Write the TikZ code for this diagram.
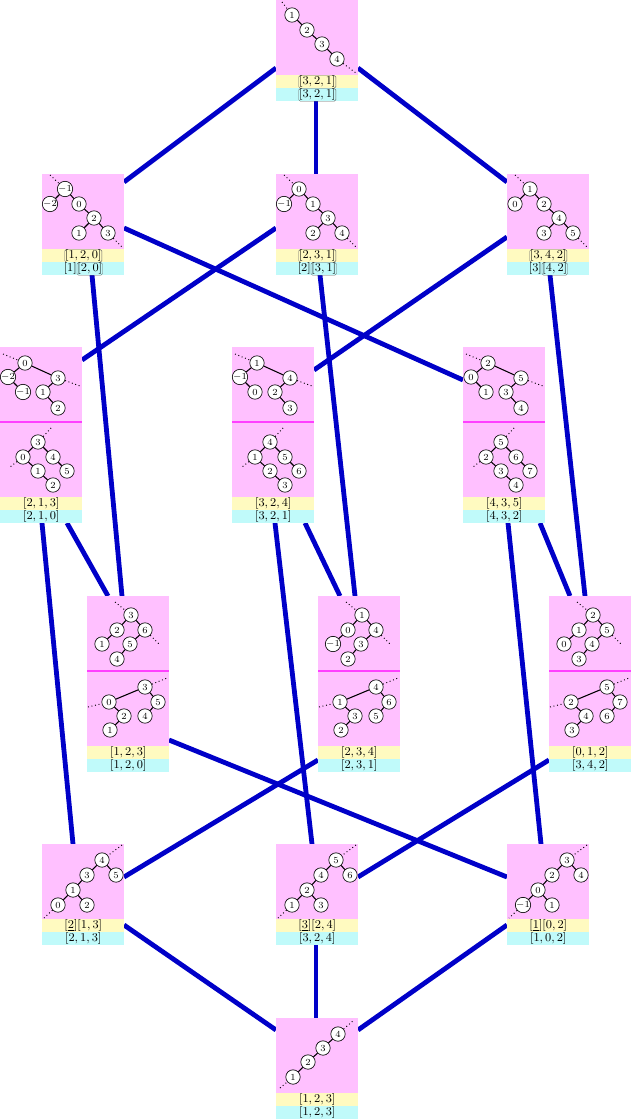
\documentclass[tikz,border=0pt]{standalone}
\usetikzlibrary{calc}
\definecolor{pk}{HTML}{FFC0FF}
\definecolor{yl}{HTML}{FFFAC0}
\definecolor{cy}{HTML}{C0FAFA}
\definecolor{mg}{HTML}{FF40FF}
\definecolor{eb}{HTML}{0000C8}
\tikzset{
 cc/.style={circle,draw,fill=white,inner sep=0pt,minimum size=10.8pt,font=\scriptsize,line width=0.5pt},
 tl/.style={line width=0.8pt},
 dl/.style={dotted,line width=0.7pt},
 eg/.style={eb,line width=3.6pt},
 pbox/.style={fill=pk,draw=none,anchor=north west,minimum width=61.5pt,inner sep=0pt},
 ybox/.style={fill=yl,draw=none,anchor=north west,minimum width=61.5pt,minimum height=9.75pt,inner sep=0pt,font=\small},
 cbox/.style={fill=cy,draw=none,anchor=north west,minimum width=61.5pt,minimum height=9.75pt,inner sep=0pt,font=\small},
 frm/.style={draw=black!60,fill=none,rounded corners=1.2pt,inner sep=0.3pt,line width=0.3pt,minimum width=0pt,minimum height=0pt,anchor=base}
}
\newcommand\fr[1]{\tikz[baseline=(q.base)]\node[frm](q){$#1$};}
\newcommand\Bx[4]{%
 \node[pbox,minimum height={#2*0.75pt}] (#1p) at (#1) {};
 \node[ybox] (#1y) at ($(#1)+(0,#2)$) {#3};
 \node[cbox] (#1c) at ($(#1)+(0,#2+13)$) {#4};}
\newcommand\ShapeTop[4]{\node[cc](a) at (16,15){#1};\node[cc](b) at (31,30){#2};\node[cc](c) at (46,44){#3};\node[cc](d) at (61,59){#4};
 \draw[tl](a)--(b)--(c)--(d);\draw[dl](6,2)--(a);\draw[dl](d)--(80,73);}
\newcommand\ShapeBot[4]{\node[cc](a) at (17,59){#1};\node[cc](b) at (32,44){#2};\node[cc](c) at (47,30){#3};\node[cc](d) at (62,16){#4};
 \draw[tl](a)--(b)--(c)--(d);\draw[dl](4,70)--(a);\draw[dl](d)--(78,2);}
\newcommand\ShapeB[6]{\node[cc](a) at (23,15){#1};\node[cc](b) at (8,30){#2};\node[cc](c) at (37,30){#3};\node[cc](d) at (52,44){#4};\node[cc](e) at (37,59){#5};\node[cc](f) at (66,59){#6};
 \draw[tl](b)--(a)--(c)--(d)--(e);\draw[tl](d)--(f);\draw[dl](8,1)--(a);\draw[dl](f)--(81,74);}
\newcommand\ShapeC[6]{\node[cc](a) at (25,16){#1};\node[cc](b) at (8,30){#2};\node[cc](c) at (23,45){#3};\node[cc](d) at (58,31){#4};\node[cc](e) at (43,45){#5};\node[cc](f) at (58,61){#6};
 \draw[tl](c)--(b)--(a)--(d)--(e)--(f);\draw[dl](3,7)--(a);\draw[dl](d)--(80,39);}
\newcommand\ShapeD[6]{\node[cc](a) at (38,20){#1};\node[cc](b) at (23,35){#2};\node[cc](c) at (53,35){#3};\node[cc](d) at (38,49){#4};\node[cc](e) at (67,49){#5};\node[cc](f) at (53,63){#6};
 \draw[tl](c)--(a)--(b)--(d)--(f);\draw[tl](c)--(e);\draw[dl](a)--(52,5);\draw[dl](b)--(10,45);}
\newcommand\ShapeE[6]{\node[cc](a) at (60,16){#1};\node[cc](b) at (45,31){#2};\node[cc](c) at (74,31){#3};\node[cc](d) at (31,46){#4};\node[cc](e) at (16,61){#5};\node[cc](f) at (45,61){#6};
 \draw[tl](c)--(a)--(b)--(d)--(e);\draw[tl](d)--(f);\draw[dl](80,1)--(a);\draw[dl](e)--(2,74);}
\newcommand\ShapeF[6]{\node[cc](a) at (44,19){#1};\node[cc](b) at (30,34){#2};\node[cc](c) at (58,34){#3};\node[cc](d) at (15,48){#4};\node[cc](e) at (43,48){#5};\node[cc](f) at (30,63){#6};
 \draw[tl](d)--(b)--(a)--(c)--(e)--(f);\draw[dl](28,6)--(a);\draw[dl](c)--(73,49);}
\newcommand\ShapeG[6]{\node[cc](a) at (58,16){#1};\node[cc](b) at (22,31){#2};\node[cc](c) at (71,31){#3};\node[cc](d) at (37,45){#4};\node[cc](e) at (58,45){#5};\node[cc](f) at (23,59){#6};
 \draw[tl](f)--(d)--(b)--(a)--(c)--(e);\draw[dl](1,36)--(b);\draw[dl](a)--(80,7);}
\begin{document}
\begin{tikzpicture}[x=0.75pt,y=-0.75pt]
\useasboundingbox (0,0) rectangle (632,1120);
\coordinate (Ba) at (276,0);
\coordinate (Bb) at (42,174); \coordinate (Bc) at (276,174); \coordinate (Bd) at (507,174);
\coordinate (Be) at (0,347); \coordinate (Bf) at (232,347); \coordinate (Bg) at (463,347);
\coordinate (Bh) at (87,596); \coordinate (Bi) at (318,596); \coordinate (Bj) at (549,596);
\coordinate (Bk) at (42,844); \coordinate (Bl) at (276,844); \coordinate (Bm) at (507,844);
\coordinate (Bn) at (276,1018);
% edges
\draw[eg] ($(Ba)+(0,68)$) -- ($(Bb)+(82,8)$);
\draw[eg] ($(Ba)+(82,68)$) -- ($(Bd)+(0,8)$);
\draw[eg] ($(Ba)+(40,101)$) -- ($(Bc)+(40,0)$);
\draw[eg] ($(Bb)+(82,54)$) -- ($(Bg)+(0,33)$);
\draw[eg] ($(Bb)+(50,101)$) -- ($(Bh)+(35,0)$);
\draw[eg] ($(Bc)+(0,54)$) -- ($(Be)+(82,13)$);
\draw[eg] ($(Bc)+(44,101)$) -- ($(Bi)+(37,0)$);
\draw[eg] ($(Bd)+(0,63)$) -- ($(Bf)+(82,23)$);
\draw[eg] ($(Bd)+(43,101)$) -- ($(Bj)+(36,0)$);
\draw[eg] ($(Be)+(42,176)$) -- ($(Bk)+(31,0)$);
\draw[eg] ($(Be)+(67,176)$) -- ($(Bh)+(21,0)$);
\draw[eg] ($(Bf)+(43,176)$) -- ($(Bl)+(36,0)$);
\draw[eg] ($(Bf)+(73,176)$) -- ($(Bi)+(22,0)$);
\draw[eg] ($(Bg)+(45,176)$) -- ($(Bm)+(34,0)$);
\draw[eg] ($(Bg)+(77,176)$) -- ($(Bj)+(21,0)$);
\draw[eg] ($(Bh)+(82,144)$) -- ($(Bm)+(0,33)$);
\draw[eg] ($(Bi)+(0,164)$) -- ($(Bk)+(82,33)$);
\draw[eg] ($(Bj)+(0,164)$) -- ($(Bl)+(82,33)$);
\draw[eg] ($(Bk)+(82,81)$) -- ($(Bn)+(0,12)$);
\draw[eg] ($(Bl)+(40,101)$) -- ($(Bn)+(40,0)$);
\draw[eg] ($(Bm)+(0,81)$) -- ($(Bn)+(82,12)$);
% boxes
\Bx{Ba}{75}{\fr{[3,2,1]}}{\fr{[3,2,1]}}
\Bx{Bb}{75}{\fr{[1,2,0]}}{$[1]$\fr{[2,0]}}
\Bx{Bc}{75}{\fr{[2,3,1]}}{$[2]$\fr{[3,1]}}
\Bx{Bd}{75}{\fr{[3,4,2]}}{$[3]$\fr{[4,2]}}
\Bx{Be}{150}{$[2,1,3]$}{$[2,1,0]$}
\Bx{Bf}{150}{$[3,2,4]$}{$[3,2,1]$}
\Bx{Bg}{150}{$[4,3,5]$}{$[4,3,2]$}
\Bx{Bh}{150}{$[1,2,3]$}{$[1,2,0]$}
\Bx{Bi}{150}{$[2,3,4]$}{$[2,3,1]$}
\Bx{Bj}{150}{$[0,1,2]$}{$[3,4,2]$}
\Bx{Bk}{75}{$[\underline{2}][1,3]$}{$[2,1,3]$}
\Bx{Bl}{75}{$[\underline{3}][2,4]$}{$[3,2,4]$}
\Bx{Bm}{75}{$[\underline{1}][0,2]$}{$[1,0,2]$}
\Bx{Bn}{75}{$[1,2,3]$}{$[1,2,3]$}
\foreach \b in {Be,Bf,Bg,Bh,Bi,Bj}{\draw[mg,line width=0.8pt] ($(\b)+(0,75)$) -- ++(82,0);}
% trees
\begin{scope}[shift={(Ba)}]\ShapeTop{1}{2}{3}{4}\end{scope}
\begin{scope}[shift={(Bb)}]\ShapeB{$-1$}{$-2$}{0}{2}{1}{3}\end{scope}
\begin{scope}[shift={(Bc)}]\ShapeB{0}{$-1$}{1}{3}{2}{4}\end{scope}
\begin{scope}[shift={(Bd)}]\ShapeB{1}{0}{2}{4}{3}{5}\end{scope}
\begin{scope}[shift={(Be)}]\ShapeC{0}{$-2$}{$-1$}{3}{1}{2}\end{scope}
\begin{scope}[shift={($(Be)+(0,75)$)}]\ShapeD{3}{0}{4}{1}{5}{2}\end{scope}
\begin{scope}[shift={(Bf)}]\ShapeC{1}{$-1$}{0}{4}{2}{3}\end{scope}
\begin{scope}[shift={($(Bf)+(0,75)$)}]\ShapeD{4}{1}{5}{2}{6}{3}\end{scope}
\begin{scope}[shift={(Bg)}]\ShapeC{2}{0}{1}{5}{3}{4}\end{scope}
\begin{scope}[shift={($(Bg)+(0,75)$)}]\ShapeD{5}{2}{6}{3}{7}{4}\end{scope}
\begin{scope}[shift={(Bh)}]\ShapeF{3}{2}{6}{1}{5}{4}\end{scope}
\begin{scope}[shift={($(Bh)+(0,75)$)}]\ShapeG{3}{0}{5}{2}{4}{1}\end{scope}
\begin{scope}[shift={(Bi)}]\ShapeF{1}{0}{4}{$-1$}{3}{2}\end{scope}
\begin{scope}[shift={($(Bi)+(0,75)$)}]\ShapeG{4}{1}{6}{3}{5}{2}\end{scope}
\begin{scope}[shift={(Bj)}]\ShapeF{2}{1}{5}{0}{4}{3}\end{scope}
\begin{scope}[shift={($(Bj)+(0,75)$)}]\ShapeG{5}{2}{7}{4}{6}{3}\end{scope}
\begin{scope}[shift={(Bk)}]\ShapeE{4}{3}{5}{1}{0}{2}\end{scope}
\begin{scope}[shift={(Bl)}]\ShapeE{5}{4}{6}{2}{1}{3}\end{scope}
\begin{scope}[shift={(Bm)}]\ShapeE{3}{2}{4}{0}{$-1$}{1}\end{scope}
\begin{scope}[shift={(Bn)}]\ShapeBot{1}{2}{3}{4}\end{scope}
\end{tikzpicture}
\end{document}
